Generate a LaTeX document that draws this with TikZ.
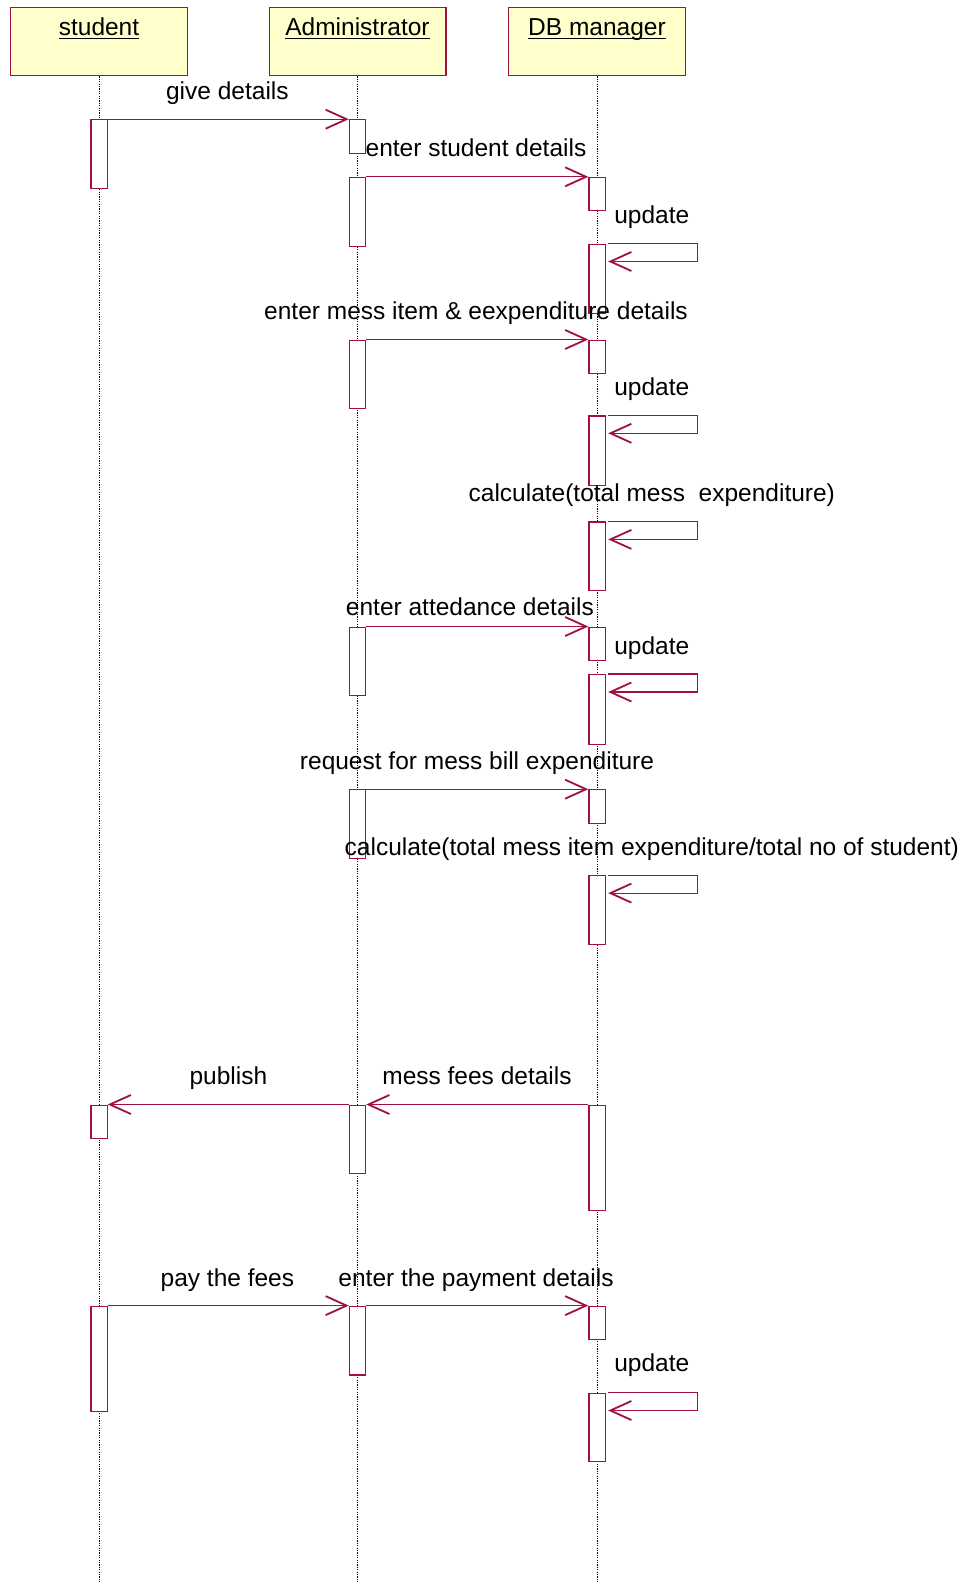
\documentclass[tikz,border=0pt]{standalone}
\usepackage{fontspec}
\setmainfont{Liberation Sans}
\usetikzlibrary{arrows.meta}
\definecolor{rosered}{HTML}{A01040}
\definecolor{noteyellow}{HTML}{FFFFCC}
% activation bar: name, x, top y, height
\newcommand\actbox[4]{\node[act, minimum height=#4pt] (#1) at (#2,#3) {};}
\begin{document}
\begin{tikzpicture}[x=1pt,y=-1pt,
  header/.style={draw=rosered, fill=noteyellow, line width=1.1pt,
    minimum width=176.9pt, minimum height=68.7pt, inner sep=0},
  title/.style={font=\fontsize{24.5}{28}\selectfont, inner sep=0, anchor=base},
  lifeline/.style={draw=black, line width=0.9pt, dash pattern=on 1.2pt off 1.2pt},
  act/.style={draw=rosered, fill=white, line width=1.2pt,
    minimum width=16.2pt, inner sep=0, anchor=north},
  msg/.style={draw=rosered, line width=1.2pt,
    -{Straight Barb[length=21pt, width=19pt, line width=1.8pt]}},
  lbl/.style={font=\fontsize{24.5}{28}\selectfont, inner sep=0,
    text height=17.5pt, text depth=5pt, anchor=center}]
\useasboundingbox (0,0) rectangle (966,1585);

% object headers
\node[header] (hs) at (99,41.45) {};
\node[header] (ha) at (357.5,41.45) {};
\node[header] (hd) at (597,41.45) {};
\node[title] (ts) at (99,35.5) {student};
\node[title] (ta) at (357.5,35.5) {Administrator};
\node[title] (td) at (597,35.5) {DB manager};
\foreach \t in {ts,ta,td}
  \draw[line width=0.9pt] ([yshift=-3pt]\t.base west) -- ([yshift=-3pt]\t.base east);

% lifelines
\coordinate (es) at (99,1581.4);
\coordinate (ea) at (357.5,1581.4);
\coordinate (ed) at (597,1581.4);
\draw[lifeline] (hs.south) -- (es);
\draw[lifeline] (ha.south) -- (ea);
\draw[lifeline] (hd.south) -- (ed);

% activation bars
\actbox{s1}{99}{119.2}{68.8}
\actbox{a1}{357.5}{119.2}{33.4}
\actbox{a2}{357.5}{176.8}{68.8}
\actbox{d1}{597}{176.8}{33.4}
\actbox{d2}{597}{243.5}{69.7}
\actbox{a3}{357.5}{339.5}{68.7}
\actbox{d3}{597}{339.5}{33.4}
\actbox{d4}{597}{415.3}{69.7}
\actbox{d5}{597}{521.4}{68.7}
\actbox{a4}{357.5}{626.5}{68.7}
\actbox{d6}{597}{626.5}{33.4}
\actbox{d7}{597}{674.0}{69.7}
\actbox{a5}{357.5}{789.2}{68.7}
\actbox{d8}{597}{789.2}{33.4}
\actbox{d9}{597}{875.1}{68.7}
\actbox{s2}{99}{1104.5}{33.3}
\actbox{a6}{357.5}{1104.5}{68.7}
\actbox{d10}{597}{1104.5}{105.1}
\actbox{s3}{99}{1305.6}{105}
\actbox{a7}{357.5}{1305.6}{68.7}
\actbox{d11}{597}{1305.6}{33.3}
\actbox{d12}{597}{1392.5}{68.7}

% messages between lifelines
\draw[msg] (s1.north east) -- (a1.north west);
\draw[msg] (a2.north east) -- (d1.north west);
\draw[msg] (a3.north east) -- (d3.north west);
\draw[msg] (a4.north east) -- (d6.north west);
\draw[msg] (a5.north east) -- (d8.north west);
\draw[msg] (a6.north west) -- (s2.north east);
\draw[msg] (d10.north west) -- (a6.north east);
\draw[msg] (s3.north east) -- (a7.north west);
\draw[msg] (a7.north east) -- (d11.north west);

% self messages on the DB manager
\foreach \d in {d2,d4,d5,d7,d9,d12}
  \draw[msg] ([xshift=2.5pt]\d.north east) -- ++(89,0) -- ++(0,18) -- ++(-89,0);

% message labels
\node[lbl] (l1) at (227.4,93.5) {give details};
\node[lbl] (l2) at (476,150) {enter student details};
\node[lbl] (l3) at (651.8,217.7) {update};
\node[lbl] (l4) at (476,313.7) {enter mess item \& eexpenditure details};
\node[lbl] (l5) at (651.8,389.5) {update};
\node[lbl] (l6) at (651.8,495.6) {calculate(total mess~ expenditure)};
\node[lbl] (l7) at (469.9,608.8) {enter attedance details};
\node[lbl] (l8) at (651.8,648.2) {update};
\node[lbl] (l9) at (477,763.4) {request for mess bill expenditure};
\node[lbl] (l10) at (651.8,849.3) {calculate(total mess item expenditure/total no of student)};
\node[lbl] (l11) at (228.4,1078.7) {publish};
\node[lbl] (l12) at (477,1078.7) {mess fees details};
\node[lbl] (l13) at (227.4,1279.8) {pay the fees};
\node[lbl] (l14) at (476,1279.8) {enter the payment details};
\node[lbl] (l15) at (651.8,1365.7) {update};
\end{tikzpicture}
\end{document}
